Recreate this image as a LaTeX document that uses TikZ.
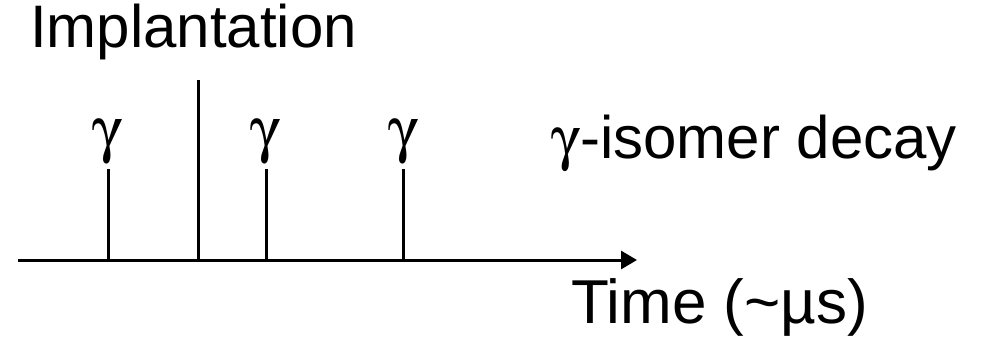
\documentclass[tikz,border=0pt]{standalone}
\usepackage{fontspec}
\usepackage[Symbol]{upgreek}
\setmainfont{Liberation Sans}
\usetikzlibrary{arrows.meta}
\newcommand{\gsym}{\ensuremath{\upgamma}}
\begin{document}
\begin{tikzpicture}[x=1pt,y=-1pt,
  lbl/.style={inner sep=0pt,outer sep=0pt,font=\fontsize{60}{72}\selectfont},
  glbl/.style={inner sep=0pt,outer sep=0pt,font=\fontsize{62}{72}\selectfont},
  stem/.style={line width=3pt,line cap=butt},
  axisline/.style={line width=3pt,-{Triangle[length=16pt,width=18pt]}}]
\useasboundingbox (0,0) rectangle (998,338);
\coordinate (a0) at (18,260);
\coordinate (a1) at (637,260);
\draw[axisline] (a0) -- (a1);
% stems
\coordinate (g1b) at (108,260); \coordinate (g1t) at (108,169);
\coordinate (g2b) at (266,260); \coordinate (g2t) at (266,169);
\coordinate (g3b) at (403,260); \coordinate (g3t) at (403,169);
\coordinate (ib) at (198,260); \coordinate (it) at (198,80);
\draw[stem] (g1b) -- (g1t);
\draw[stem] (g2b) -- (g2t);
\draw[stem] (g3b) -- (g3t);
\draw[stem] (ib) -- (it);
\node[glbl,anchor=base] (gam1) at (108,150) {\gsym};
\node[glbl,anchor=base] (gam2) at (266,150) {\gsym};
\node[glbl,anchor=base] (gam3) at (403,150) {\gsym};
\node[lbl,anchor=base west] (impl) at (30,47) {Implantation};
\node[lbl,anchor=base west] (iso) at (551,158) {\gsym-isomer decay};
\node[lbl,anchor=base west,font=\fontsize{62}{72}\selectfont] (time) at (571,323) {Time (\textasciitilde µs)};
\end{tikzpicture}
\end{document}
